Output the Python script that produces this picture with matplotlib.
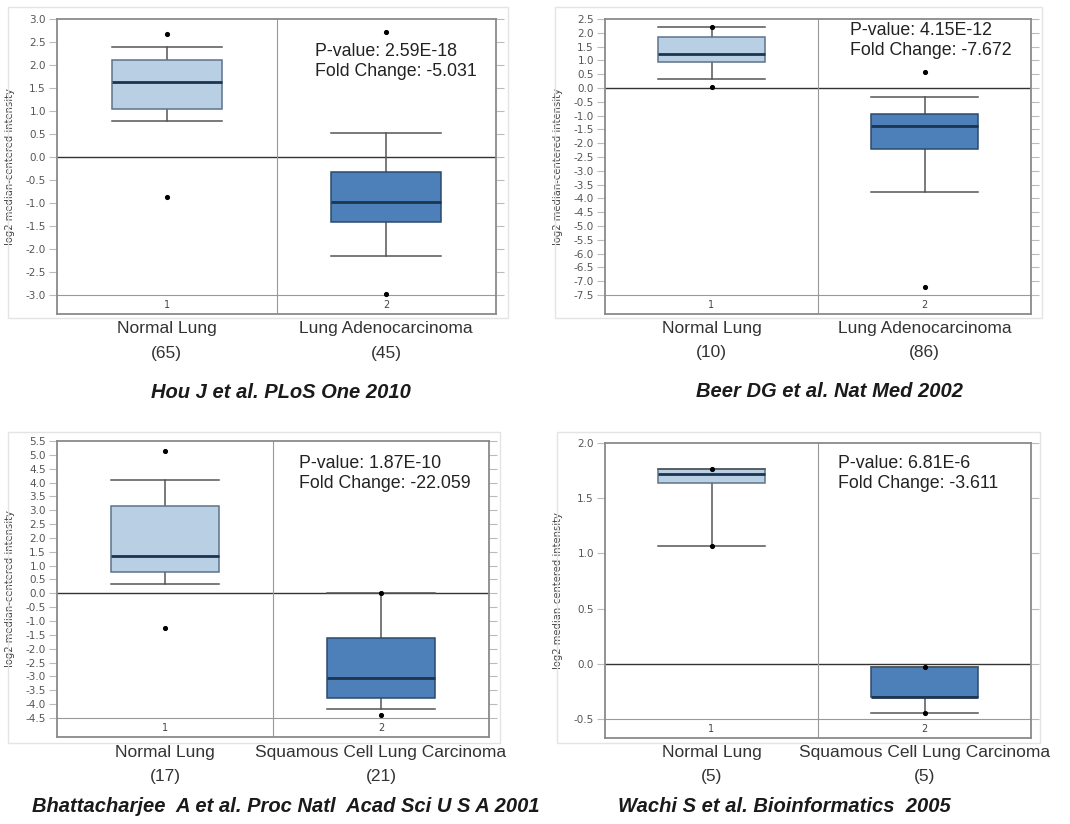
import matplotlib
matplotlib.use("Agg")
import matplotlib.pyplot as plt
from matplotlib.patches import Rectangle
from matplotlib import font_manager

W, H = 1070, 824

# ---------------- data ----------------
# Panel 1: Hou J et al. PLoS One 2010
p1_groups = ["Normal Lung", "Lung Adenocarcinoma"]
p1_counts = [65, 45]
p1_whislo = [0.78, -2.16]
p1_q1 = [1.05, -1.42]
p1_med = [1.63, -0.98]
p1_q3 = [2.11, -0.32]
p1_whishi = [2.40, 0.53]
p1_fliers = [[2.67, -0.88], [2.71, -2.98]]
p1_ticks = [3.0, 2.5, 2.0, 1.5, 1.0, 0.5, 0.0, -0.5, -1.0, -1.5, -2.0, -2.5, -3.0]
p1_pvalue = "2.59E-18"
p1_fold = "-5.031"
p1_cite = "Hou J et al. PLoS One 2010"

# Panel 2: Beer DG et al. Nat Med 2002
p2_groups = ["Normal Lung", "Lung Adenocarcinoma"]
p2_counts = [10, 86]
p2_whislo = [0.32, -3.78]
p2_q1 = [0.95, -2.22]
p2_med = [1.23, -1.37]
p2_q3 = [1.84, -0.95]
p2_whishi = [2.20, -0.33]
p2_fliers = [[2.20, 0.03], [0.58, -7.22]]
p2_ticks = [2.5, 2.0, 1.5, 1.0, 0.5, 0.0, -0.5, -1.0, -1.5, -2.0, -2.5, -3.0, -3.5,
            -4.0, -4.5, -5.0, -5.5, -6.0, -6.5, -7.0, -7.5]
p2_pvalue = "4.15E-12"
p2_fold = "-7.672"
p2_cite = "Beer DG et al. Nat Med 2002"

# Panel 3: Bhattacharjee A et al. 2001
p3_groups = ["Normal Lung", "Squamous Cell Lung Carcinoma"]
p3_counts = [17, 21]
p3_whislo = [0.32, -4.19]
p3_q1 = [0.77, -3.79]
p3_med = [1.33, -3.05]
p3_q3 = [3.14, -1.62]
p3_whishi = [4.10, 0.0]
p3_fliers = [[5.14, -1.27], [0.0, -4.39]]
p3_ticks = [5.5, 5.0, 4.5, 4.0, 3.5, 3.0, 2.5, 2.0, 1.5, 1.0, 0.5, 0.0, -0.5, -1.0,
            -1.5, -2.0, -2.5, -3.0, -3.5, -4.0, -4.5]
p3_pvalue = "1.87E-10"
p3_fold = "-22.059"
p3_cite = "Bhattacharjee  A et al. Proc Natl  Acad Sci U S A 2001"

# Panel 4: Wachi S et al. Bioinformatics 2005
p4_groups = ["Normal Lung", "Squamous Cell Lung Carcinoma"]
p4_counts = [5, 5]
p4_whislo = [1.07, -0.45]
p4_q1 = [1.64, -0.30]
p4_med = [1.72, -0.30]
p4_q3 = [1.76, -0.03]
p4_whishi = [1.76, -0.03]
p4_fliers = [[1.76, 1.07], [-0.03, -0.45]]
p4_ticks = [2.0, 1.5, 1.0, 0.5, 0.0, -0.5]
p4_pvalue = "6.81E-6"
p4_fold = "-3.611"
p4_cite = "Wachi S et al. Bioinformatics  2005"

# ---------------- style / layout ----------------
SANS = "Liberation Sans"

BOX_COLORS = ["#b9cfe4", "#4d80b9"]
BOX_EDGES = ["#5d738a", "#2c4a6e"]
MED_COLOR = "#1c3450"

panels = [
    dict(groups=p1_groups, counts=p1_counts, whislo=p1_whislo, q1=p1_q1, med=p1_med,
         q3=p1_q3, whishi=p1_whishi, fliers=p1_fliers, ticks=p1_ticks,
         pvalue=p1_pvalue, fold=p1_fold, cite=p1_cite,
         rect=(57, 19, 496, 314), outer=(8, 7, 508, 318), txt=(0.588, 0.919),
         off=(15, 40, 79), cite_dx=4),
    dict(groups=p2_groups, counts=p2_counts, whislo=p2_whislo, q1=p2_q1, med=p2_med,
         q3=p2_q3, whishi=p2_whishi, fliers=p2_fliers, ticks=p2_ticks,
         pvalue=p2_pvalue, fold=p2_fold, cite=p2_cite,
         rect=(605, 19, 1031, 314), outer=(555, 7, 1042, 318), txt=(0.575, 0.99),
         off=(15, 39, 78), cite_dx=12),
    dict(groups=p3_groups, counts=p3_counts, whislo=p3_whislo, q1=p3_q1, med=p3_med,
         q3=p3_q3, whishi=p3_whishi, fliers=p3_fliers, ticks=p3_ticks,
         pvalue=p3_pvalue, fold=p3_fold, cite=p3_cite,
         rect=(57, 441, 489, 737), outer=(8, 432, 500, 743), txt=(0.56, 0.953),
         off=(16, 40, 70), cite_dx=13),
    dict(groups=p4_groups, counts=p4_counts, whislo=p4_whislo, q1=p4_q1, med=p4_med,
         q3=p4_q3, whishi=p4_whishi, fliers=p4_fliers, ticks=p4_ticks,
         pvalue=p4_pvalue, fold=p4_fold, cite=p4_cite,
         rect=(605, 443, 1031, 738), outer=(557, 432, 1040, 743), txt=(0.547, 0.959),
         off=(15, 39, 68), cite_dx=-34),
]

fig = plt.figure(figsize=(W / 100, H / 100), dpi=100)
fig.patch.set_facecolor("white")

for p in panels:
    # faint outer panel frame
    ol, ot, orr, ob = p["outer"]
    fig.patches.append(Rectangle((ol / W, 1 - ob / H), (orr - ol) / W, (ob - ot) / H,
                                 transform=fig.transFigure, fill=False,
                                 edgecolor="#e4e4e4", lw=1.0))
    l, t, r, b = p["rect"]
    ax = fig.add_axes([l / W, 1 - b / H, (r - l) / W, (b - t) / H])
    ymax, ymin = max(p["ticks"]), min(p["ticks"])
    ax.set_xlim(0, 2)
    ax.set_ylim(ymin - 0.069 * (ymax - ymin), ymax)

    stats = []
    for i in range(2):
        stats.append(dict(med=p["med"][i], q1=p["q1"][i], q3=p["q3"][i],
                          whislo=p["whislo"][i], whishi=p["whishi"][i],
                          fliers=p["fliers"][i]))
    bp = ax.bxp(stats, positions=[0.5, 1.5], widths=0.5, capwidths=0.5,
                patch_artist=True, showfliers=True,
                whiskerprops=dict(color="#555555", lw=1.1),
                capprops=dict(color="#555555", lw=1.1),
                medianprops=dict(color=MED_COLOR, lw=2.0),
                flierprops=dict(marker="o", markersize=2.7, markerfacecolor="black",
                                markeredgecolor="black", linestyle="none"))
    for i, box in enumerate(bp["boxes"]):
        box.set_facecolor(BOX_COLORS[i])
        box.set_edgecolor(BOX_EDGES[i])
        box.set_linewidth(1.1)
    for w in bp["whiskers"]:
        w.set_zorder(1.5)

    ax.axhline(0.0, color="#333333", lw=1.0, zorder=1)
    ax.axhline(ymin, color="#999999", lw=0.8, zorder=1)
    ax.axvline(1.0, color="#999999", lw=0.8, zorder=1)

    ax.set_yticks(p["ticks"])
    ax.set_yticklabels([f"{v:.1f}" for v in p["ticks"]])
    ax.set_xticks([])
    ax.tick_params(axis="y", labelsize=7.5, labelcolor="#555555", color="#bbbbbb",
                   length=6, width=0.8, right=True, direction="out", pad=2)
    for s in ax.spines.values():
        s.set_color("#8a8a8a")
        s.set_linewidth(1.3)
    ax.set_ylabel("log2 median-centered intensity", fontsize=7.2, color="#444444")
    ax.yaxis.set_label_coords(-42 / (r - l), 0.5)

    for i, x in enumerate([0.5, 1.5]):
        ax.text(x, 0.032, str(i + 1), transform=ax.get_xaxis_transform(),
                ha="center", va="center", fontsize=7, color="#444444")
        ax.annotate(p["groups"][i], xy=(x, 0), xycoords=("data", "axes fraction"),
                    xytext=(0, -p["off"][0]), textcoords="offset pixels",
                    ha="center", va="center", fontsize=12.5, color="#333333",
                    family=SANS, annotation_clip=False)
        ax.annotate(f"({p['counts'][i]})", xy=(x, 0), xycoords=("data", "axes fraction"),
                    xytext=(0, -p["off"][1]), textcoords="offset pixels",
                    ha="center", va="center", fontsize=12.5, color="#333333",
                    family=SANS, annotation_clip=False)
    ax.annotate(p["cite"], xy=(1.0, 0), xycoords=("data", "axes fraction"),
                xytext=(p["cite_dx"], -p["off"][2]), textcoords="offset pixels",
                ha="center", va="center", fontsize=14.5, color="#1a1a1a",
                fontweight="bold", fontstyle="italic", family=SANS,
                annotation_clip=False)

    ax.text(p["txt"][0], p["txt"][1],
            f"P-value: {p['pvalue']}\nFold Change: {p['fold']}",
            transform=ax.transAxes, ha="left", va="top", fontsize=12.8,
            color="#222222", family=SANS, linespacing=1.25)

fig.savefig("out.png", dpi=100, facecolor="white")
